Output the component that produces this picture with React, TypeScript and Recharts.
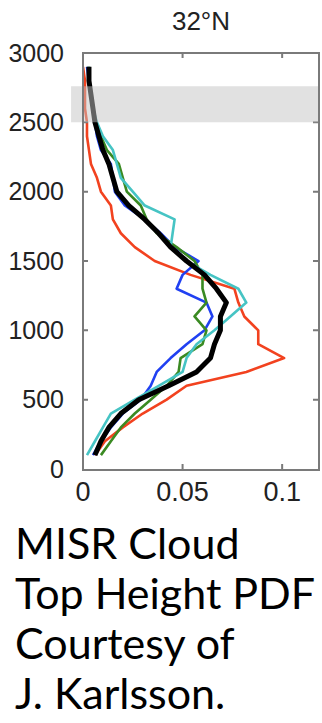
import { LineChart, Line, XAxis, YAxis, ReferenceArea } from "recharts";

// cloud top height bins (m), top to bottom
const heights = [
    2900, 2800, 2700, 2600, 2500, 2400, 2300, 2200, 2100, 2000,
    1900, 1800, 1700, 1600, 1500, 1400, 1300, 1200, 1100, 1000,
    900, 800, 700, 600, 500, 400, 300, 200, 100,
];

const redPdf = [
    0.0, 0.001, 0.001, 0.001, 0.002, 0.002, 0.003, 0.004, 0.007, 0.009,
    0.014, 0.015, 0.019, 0.026, 0.036, 0.054, 0.076, 0.078, 0.081, 0.088,
    0.088, 0.101, 0.082, 0.052, 0.042, 0.03, 0.02, 0.011, 0.006,
];
const bluePdf = [
    0.002, 0.003, 0.004, 0.005, 0.006, 0.007, 0.009, 0.014, 0.015, 0.016,
    0.021, 0.031, 0.039, 0.046, 0.058, 0.05, 0.047, 0.062, 0.065, 0.061,
    0.052, 0.044, 0.037, 0.034, 0.029, 0.02, 0.014, 0.009, 0.005,
];
const greenPdf = [
    0.003, 0.003, 0.004, 0.005, 0.006, 0.009, 0.012, 0.018, 0.02, 0.022,
    0.029, 0.032, 0.037, 0.047, 0.056, 0.06, 0.06, 0.062, 0.056, 0.062,
    0.06, 0.049, 0.048, 0.042, 0.034, 0.026, 0.019, 0.014, 0.009,
];
const cyanPdf = [
    0.003, 0.003, 0.004, 0.005, 0.007, 0.01, 0.015, 0.017, 0.019, 0.025,
    0.031, 0.046, 0.045, 0.044, 0.052, 0.064, 0.078, 0.082, 0.074, 0.066,
    0.057, 0.052, 0.05, 0.038, 0.026, 0.014, 0.01, 0.006, 0.002,
];
const meanPdf = [
    0.003, 0.003, 0.004, 0.005, 0.006, 0.008, 0.01, 0.013, 0.015, 0.017,
    0.023, 0.031, 0.038, 0.044, 0.052, 0.061, 0.067, 0.072, 0.069, 0.069,
    0.066, 0.064, 0.057, 0.043, 0.028, 0.019, 0.013, 0.009, 0.006,
];

const xTicks = [0, 0.05, 0.1];
const yTicks = [0, 500, 1000, 1500, 2000, 2500, 3000];
const xMax = 0.118;
const yMax = 3000;
const band = [2500, 2760];

const rows = heights.map((h, i) => ({
    h,
    red: redPdf[i],
    blue: bluePdf[i],
    green: greenPdf[i],
    cyan: cyanPdf[i],
    mean: meanPdf[i],
}));

const FONT = "'Liberation Sans', Arial, Helvetica, sans-serif";
const BOX = "#7a7a7a";
const PLOT_W = 235;
const PLOT_H = 416;

// left labels + inward ticks on both the left and right side of the box
function LeftTick({ x, y, payload }: any) {
    const edge = payload.value === 0 || payload.value === yMax;
    const l = x + 19;
    const r = x + 19 + PLOT_W;
    return (
        <g>
            {!edge && (
                <path d={`M${l},${y}h5M${r},${y}h-5`} stroke={BOX} strokeWidth={2} fill="none" />
            )}
            <text x={x} y={y} dy="0.35em" textAnchor="end" fontSize={25} fill="#222" fontFamily={FONT}>
                {payload.value}
            </text>
        </g>
    );
}

// bottom labels + inward ticks on both the bottom and top of the box
function BottomTick({ x, y, payload }: any) {
    const edge = payload.value === 0;
    const b = y - 13;
    const t = y - 13 - PLOT_H;
    return (
        <g>
            {!edge && (
                <path d={`M${x},${b}v-5M${x},${t}v5`} stroke={BOX} strokeWidth={2} fill="none" />
            )}
            <text x={x} y={y} dy="0.71em" textAnchor="middle" fontSize={27} fill="#222" fontFamily={FONT}>
                {payload.value}
            </text>
        </g>
    );
}

export default function App() {
    return (
        <div
            style={{
                position: "absolute",
                left: 0,
                top: 0,
                width: 322,
                height: 723,
                background: "#fff",
                overflow: "hidden",
            }}
        >
            <div
                style={{
                    position: "absolute",
                    left: 83,
                    width: 236,
                    top: 6,
                    textAlign: "center",
                    fontFamily: FONT,
                    fontSize: 26,
                    color: "#222",
                }}
            >
                32°N
            </div>
            <div style={{ position: "absolute", left: 0, top: 0 }}>
                <LineChart
                    layout="vertical"
                    width={322}
                    height={510}
                    data={rows}
                    margin={{ top: 53, right: 4, bottom: 6, left: 0 }}
                >
                    <XAxis
                        type="number"
                        domain={[0, xMax]}
                        ticks={xTicks}
                        allowDataOverflow
                        height={35}
                        tickSize={0}
                        tickMargin={13}
                        axisLine={false}
                        tick={<BottomTick />}
                        interval={0}
                    />
                    <YAxis
                        type="number"
                        dataKey="h"
                        domain={[0, yMax]}
                        reversed
                        ticks={yTicks}
                        allowDataOverflow
                        width={83}
                        tickSize={0}
                        tickMargin={19}
                        axisLine={false}
                        tick={<LeftTick />}
                        interval={0}
                    />
                    <Line dataKey="red" stroke="#f2421f" strokeWidth={2.6} dot={false} isAnimationActive={false} strokeLinejoin="round" />
                    <Line dataKey="blue" stroke="#2040f2" strokeWidth={2.6} dot={false} isAnimationActive={false} strokeLinejoin="round" />
                    <Line dataKey="green" stroke="#3a8a22" strokeWidth={2.6} dot={false} isAnimationActive={false} strokeLinejoin="round" />
                    <Line dataKey="cyan" stroke="#46c4c4" strokeWidth={2.6} dot={false} isAnimationActive={false} strokeLinejoin="round" />
                    <Line dataKey="mean" stroke="#000" strokeWidth={5} dot={false} isAnimationActive={false} strokeLinejoin="round" />
                    <ReferenceArea
                        x1={-0.006}
                        x2={xMax}
                        y1={band[0]}
                        y2={band[1]}
                        ifOverflow="visible"
                        fill="#c4c4c4"
                        fillOpacity={0.5}
                        stroke="none"
                        zIndex={2000}
                    />
                </LineChart>
            </div>
            {/* plot frame */}
            <div
                style={{
                    position: "absolute",
                    left: 82,
                    top: 52,
                    width: PLOT_W - 1,
                    height: PLOT_H - 1,
                    border: `2px solid ${BOX}`,
                    pointerEvents: "none",
                }}
            />
            <div
                style={{
                    position: "absolute",
                    left: 15,
                    top: 518,
                    fontFamily: "Lato, 'Open Sans', sans-serif",
                    fontSize: 43,
                    lineHeight: "50px",
                    color: "#000",
                    whiteSpace: "nowrap",
                }}
            >
                <div>MISR Cloud</div>
                <div>Top Height PDF</div>
                <div>Courtesy of</div>
                <div>J. Karlsson.</div>
            </div>
        </div>
    );
}
